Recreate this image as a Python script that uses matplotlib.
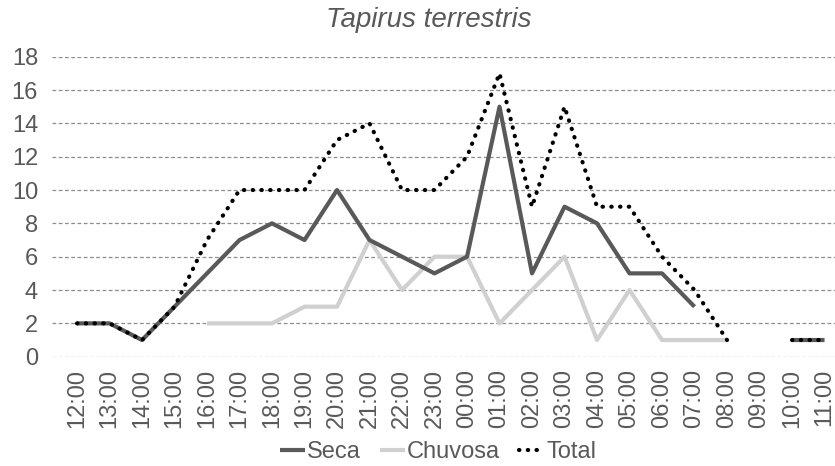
import numpy as np
import matplotlib
matplotlib.use("Agg")
import matplotlib.pyplot as plt

nan = np.nan

# horas do dia (eixo x)
horas = ["12:00", "13:00", "14:00", "15:00", "16:00", "17:00", "18:00", "19:00",
         "20:00", "21:00", "22:00", "23:00", "00:00", "01:00", "02:00", "03:00",
         "04:00", "05:00", "06:00", "07:00", "08:00", "09:00", "10:00", "11:00"]

# registros por estação
seca = [2, 2, 1, 3, 5, 7, 8, 7, 10, 7, 6, 5, 6, 15, 5, 9, 8, 5, 5, 3, nan, nan, 1, 1]
chuvosa = [nan, nan, nan, nan, 2, 2, 2, 3, 3, 7, 4, 6, 6, 2, 4, 6, 1, 4, 1, 1, 1, nan, nan, nan]
total = [2, 2, 1, 3, 7, 10, 10, 10, 13, 14, 10, 10, 12, 17, 9, 15, 9, 9, 6, 4, 1, nan, 1, 1]

plt.rcParams['font.family'] = ['Liberation Sans', 'DejaVu Sans']
cor_texto = "#595959"

W, H = 835, 466
fig = plt.figure(figsize=(W / 100, H / 100), dpi=100)

# area do grafico em pixels (a direita fica cortada como no original)
esq, topo, base = 52, 56.7, 356.7
passo = 32.5
x0 = -0.77
x1 = 23.5
larg = (x1 - x0) * passo
ax = fig.add_axes([esq / W, (H - base) / H, larg / W, (base - topo) / H])

x = np.arange(len(horas))
ax.plot(x, seca, color="#595959", lw=3, solid_capstyle="butt", label="Seca", zorder=3)
ax.plot(x, chuvosa, color="#d0d0d0", lw=3, solid_capstyle="butt", label="Chuvosa", zorder=2)
ax.plot(x, total, color="black", lw=3, linestyle=(0, (0.1, 2)),
        dash_capstyle="round", label="Total", zorder=4)

ax.set_xlim(x0, x1)
ax.set_ylim(0, 18)
ax.set_yticks(range(0, 19, 2))
ax.set_xticks(x)
ax.set_xticklabels(horas, rotation=90)
ax.tick_params(length=0, labelsize=17, labelcolor=cor_texto)
ax.tick_params(axis="y", pad=10)
ax.tick_params(axis="x", pad=9)

ax.grid(axis="y", color="#8c8c8c", linestyle=(0, (3, 2)), lw=0.9)
ax.set_axisbelow(True)
for s in ax.spines.values():
    s.set_visible(False)

fig.text(429 / W, 1 - 20 / H, "Tapirus terrestris", fontsize=20, style="italic",
         color=cor_texto, ha="center", va="center")

fig.legend(loc="center", bbox_to_anchor=(438 / W, 14 / H), ncol=3, frameon=False,
           fontsize=17, handlelength=1.05, handletextpad=0.1, columnspacing=0.8,
           labelcolor=cor_texto, borderpad=0.2)

fig.savefig("out.png", dpi=100)
